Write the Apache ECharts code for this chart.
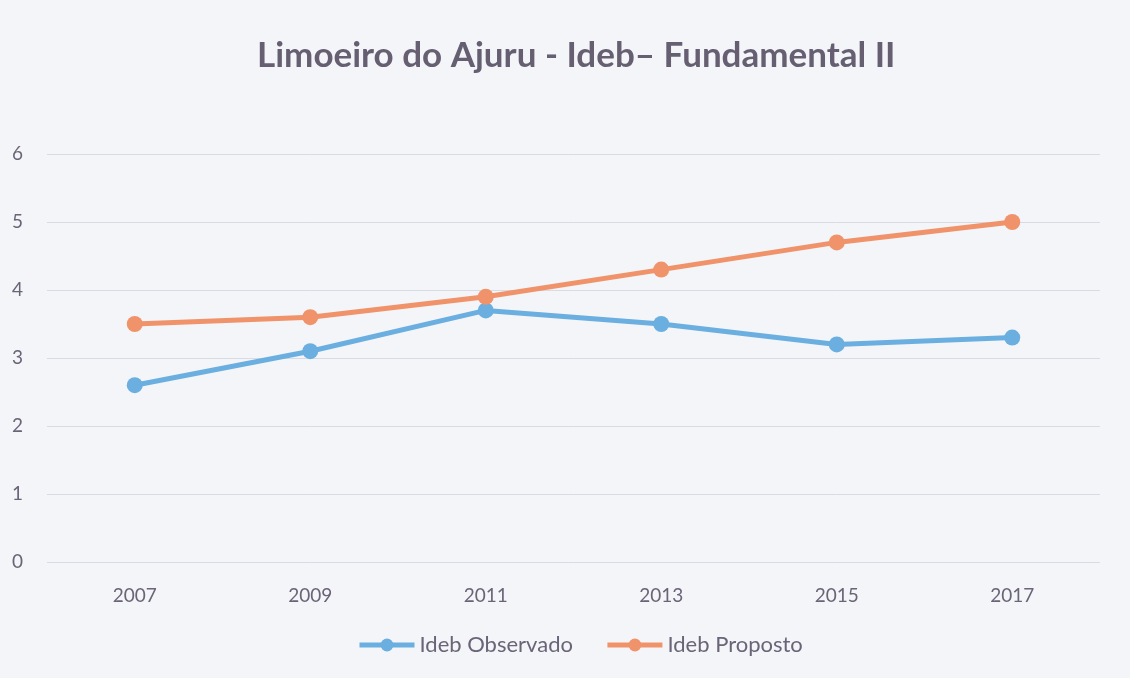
<!DOCTYPE html>
<html><head><meta charset="utf-8">
<script src="https://cdn.jsdelivr.net/npm/echarts@6/dist/echarts.min.js"></script>
<style>html,body{margin:0;padding:0;background:#f4f5f8;}#c{width:1130px;height:678px;}</style>
</head><body><div id="c"></div>
<script>
const categories = ['2007','2009','2011','2013','2015','2017'];
const observado = [2.6, 3.1, 3.7, 3.5, 3.2, 3.3];
const proposto = [3.5, 3.6, 3.9, 4.3, 4.7, 5.0];
const yTicks = [0,1,2,3,4,5,6];

const chart = echarts.init(document.getElementById('c'));
const font = 'Lato, "Open Sans", sans-serif';
chart.setOption({
  backgroundColor: '#f4f5f8',
  animation: false,
  title: {
    text: 'Limoeiro do Ajuru - Ideb– Fundamental II',
    left: 252, top: 33,
    textStyle: {fontFamily: font, fontSize: 35, fontWeight: 'bold', color: '#665f72'}
  },
  legend: {
    bottom: 17, left: 352, itemGap: 32, itemWidth: 55, itemHeight: 16,
    lineStyle: {width: 5},
    textStyle: {fontFamily: font, fontSize: 22, color: '#6a6478'},
    data: ['Ideb Observado', 'Ideb Proposto']
  },
  grid: {left: 47, right: 30, top: 154, bottom: 116, containLabel: false},
  xAxis: {
    type: 'category', data: categories, boundaryGap: true,
    axisLine: {show: false}, axisTick: {show: false},
    axisLabel: {fontFamily: font, fontSize: 19, color: '#6a6478', margin: 24},
    splitLine: {show: false}
  },
  yAxis: {
    type: 'value', min: yTicks[0], max: yTicks[yTicks.length-1], interval: 1,
    axisLine: {show: false}, axisTick: {show: false},
    axisLabel: {fontFamily: font, fontSize: 19, color: '#6a6478', margin: 24},
    splitLine: {lineStyle: {color: '#d8dbe4', width: 1}}
  },
  series: [
    {name: 'Ideb Observado', type: 'line', data: observado, symbol: 'circle', symbolSize: 16,
     itemStyle: {color: '#6aafe0'}, lineStyle: {width: 5, color: '#6aafe0'}},
    {name: 'Ideb Proposto', type: 'line', data: proposto, symbol: 'circle', symbolSize: 16,
     itemStyle: {color: '#f0936a'}, lineStyle: {width: 5, color: '#f0936a'}}
  ]
});
</script></body></html>
